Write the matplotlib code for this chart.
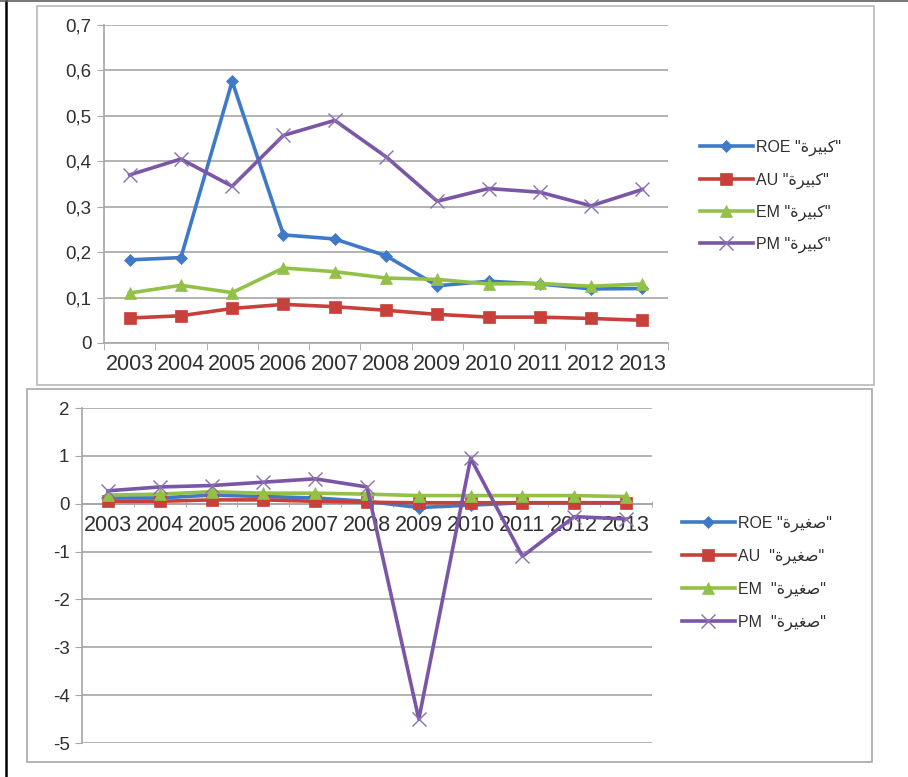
import numpy as np
import matplotlib.pyplot as plt
from matplotlib.patches import Rectangle
from matplotlib.lines import Line2D

# years on the category axis
years = ['2003', '2004', '2005', '2006', '2007', '2008', '2009', '2010', '2011', '2012', '2013']

# "large" firms (top panel)
roe_big = [0.183, 0.188, 0.576, 0.238, 0.229, 0.192, 0.126, 0.136, 0.130, 0.119, 0.120]
au_big = [0.055, 0.060, 0.076, 0.085, 0.080, 0.072, 0.063, 0.057, 0.057, 0.054, 0.050]
em_big = [0.110, 0.127, 0.111, 0.165, 0.157, 0.143, 0.140, 0.130, 0.131, 0.125, 0.130]
pm_big = [0.370, 0.405, 0.345, 0.457, 0.490, 0.410, 0.312, 0.340, 0.332, 0.302, 0.338]

# "small" firms (bottom panel)
roe_small = [0.12, 0.12, 0.18, 0.15, 0.12, 0.05, -0.08, -0.03, 0.02, 0.02, 0.02]
au_small = [0.05, 0.05, 0.08, 0.08, 0.05, 0.03, 0.02, 0.02, 0.02, 0.02, 0.02]
em_small = [0.18, 0.20, 0.25, 0.22, 0.22, 0.20, 0.17, 0.17, 0.17, 0.17, 0.15]
pm_small = [0.27, 0.35, 0.38, 0.45, 0.52, 0.35, -4.50, 0.95, -1.10, -0.27, -0.32]

top_ticks = [0, 0.1, 0.2, 0.3, 0.4, 0.5, 0.6, 0.7]
top_ticklabels = ['0', '0,1', '0,2', '0,3', '0,4', '0,5', '0,6', '0,7']
bottom_ticks = [-5, -4, -3, -2, -1, 0, 1, 2]
bottom_ticklabels = ['-5', '-4', '-3', '-2', '-1', '0', '1', '2']

# Arabic words in visual order, shaped with presentation forms
# (matplotlib does no Arabic shaping / bidi on its own)
big_word = '\uFE93\uFEAE\uFEF4\uFE92\uFEDB'    # كبيرة
small_word = '\uFE93\uFEAE\uFEF4\uFED0\uFEBB'  # صغيرة
series_names = ['ROE', 'AU', 'EM', 'PM']
big_labels = [n + ' "' + big_word + '"' for n in series_names]
small_labels = ['ROE "' + small_word + '"'] + [n + '  "' + small_word + '"' for n in series_names[1:]]

colors = ['#3f7ac8', '#c8403b', '#93c047', '#7b55a6']
markers = ['D', 's', '^', 'x']
msizes = [6.5, 8, 8.5, 10]

plt.rcParams['font.family'] = ['Liberation Sans', 'DejaVu Sans']
grid_col = '#a6a6a6'
text_col = '#303030'

fig = plt.figure(figsize=(9.08, 7.77), dpi=100)
W, H = 908.0, 777.0


def box(x0, y0, x1, y1, col, lw):
    fig.add_artist(Rectangle((x0 / W, 1 - y1 / H), (x1 - x0) / W, (y1 - y0) / H,
                             transform=fig.transFigure, fill=False, edgecolor=col, lw=lw))


# outer frame lines of the screenshot
fig.add_artist(Line2D([6 / W, 6 / W], [0, 1], transform=fig.transFigure, color='black', lw=1.8))
fig.add_artist(Line2D([0, 1], [1 - 0.8 / H, 1 - 0.8 / H], transform=fig.transFigure, color='#606060', lw=1.2))
box(37, 6, 874, 385, '#b8b8b8', 1.2)
box(27, 389, 872, 762, '#a8a8a8', 1.2)


def draw_panel(ax, series, ylim, ticks, ticklabels, zero_axis):
    x = np.arange(len(years))
    for vals, c, m, ms in zip(series, colors, markers, msizes):
        mew = 1.0 if m == 'x' else 0.5
        ax.plot(x, vals, color=c, lw=2.6, marker=m, ms=ms, mew=mew,
                mec=('#8a70b0' if m == 'x' else c), zorder=3)
    ax.set_xlim(-0.5, len(years) - 0.5)
    ax.set_ylim(*ylim)
    ax.set_yticks(ticks, ticklabels)
    ax.set_xticks(x, years)
    ax.set_xticks(np.arange(len(years) + 1) - 0.5, minor=True)
    ax.grid(axis='y', color=grid_col, lw=1.2)
    ax.set_axisbelow(True)
    for s in ['top', 'right']:
        ax.spines[s].set_visible(False)
    for s in ['left', 'bottom']:
        ax.spines[s].set_color(grid_col)
        ax.spines[s].set_linewidth(1.2)
    ax.tick_params(axis='y', length=5, color=grid_col, labelsize=13.5, labelcolor=text_col, pad=4)
    ax.tick_params(axis='x', which='major', length=0, labelsize=15.5, labelcolor=text_col, pad=8)
    if zero_axis:
        ax.spines['bottom'].set_position(('data', 0))
        ax.tick_params(axis='x', which='minor', length=5, color=grid_col, direction='inout')
    else:
        ax.tick_params(axis='x', which='minor', length=5, color=grid_col)
    return ax


ax1 = fig.add_axes([104 / W, 1 - 343 / H, (668 - 104) / W, (343 - 25) / H])
draw_panel(ax1, [roe_big, au_big, em_big, pm_big], (0, 0.7), top_ticks, top_ticklabels, False)
fig.legend(ax1.get_lines(), big_labels, loc='center left', bbox_to_anchor=(700 / W, 1 - 196.5 / H),
           frameon=False, fontsize=11.5, handlelength=3.3, handletextpad=0.2, labelspacing=1.0,
           borderpad=0, borderaxespad=0, labelcolor=text_col)

ax2 = fig.add_axes([82 / W, 1 - 743 / H, (652 - 82) / W, (743 - 408) / H])
draw_panel(ax2, [roe_small, au_small, em_small, pm_small], (-5, 2), bottom_ticks, bottom_ticklabels, True)
fig.legend(ax2.get_lines(), small_labels, loc='center left', bbox_to_anchor=(682 / W, 1 - 573.5 / H),
           frameon=False, fontsize=11.5, handlelength=3.3, handletextpad=0.2, labelspacing=1.05,
           borderpad=0, borderaxespad=0, labelcolor=text_col)

fig.savefig('out.png', dpi=100)
